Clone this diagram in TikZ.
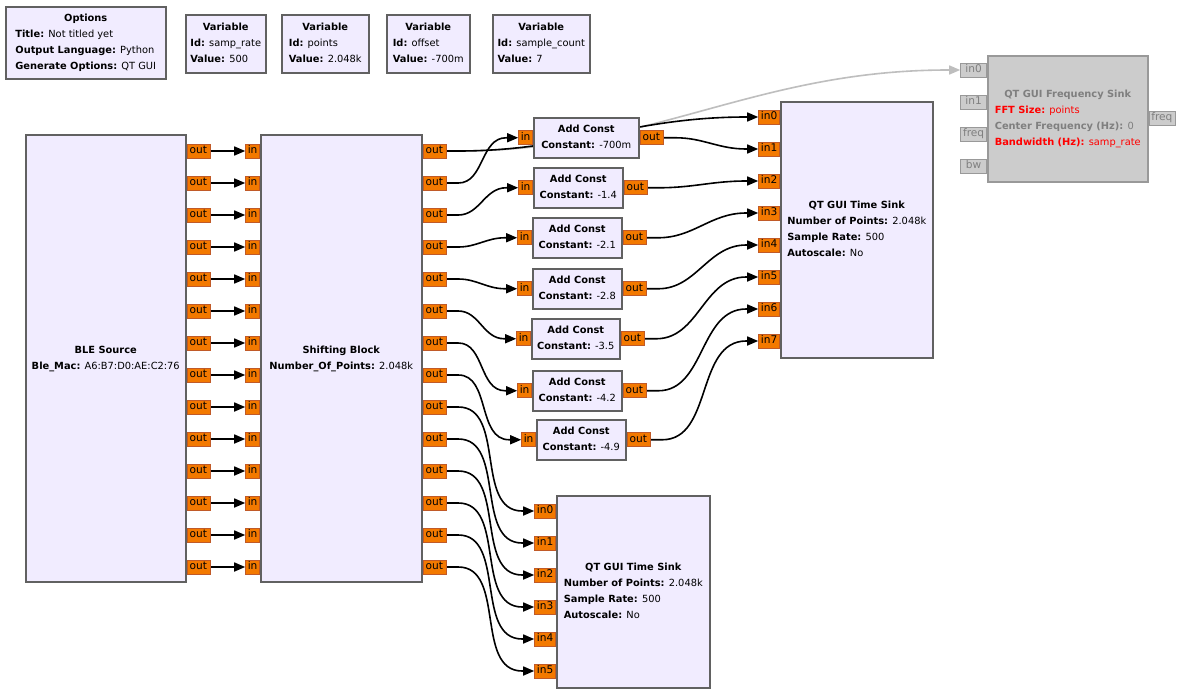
\documentclass[tikz,border=0pt]{standalone}
\usepackage{fontspec}
\setmainfont{DejaVu Sans}
\usepackage{xcolor}
\usetikzlibrary{arrows.meta, positioning}

\definecolor{blkfill}{HTML}{F1ECFF}
\definecolor{blkline}{HTML}{616161}
\definecolor{prtfill}{HTML}{F37900}
\definecolor{prtline}{HTML}{C05A28}
\definecolor{offfill}{HTML}{CCCCCC}
\definecolor{offline}{HTML}{999999}
\definecolor{offtext}{HTML}{7F7F7F}
\definecolor{offwirec}{HTML}{BEBEBE}
\definecolor{errtext}{HTML}{FF0000}

\pgfdeclarelayer{bg}
\pgfdeclarelayer{wires}
\pgfsetlayers{bg,wires,main}

\newcommand{\blocktext}[2]{\begin{tabular}{@{}l@{}}\multicolumn{1}{@{}c@{}}{\bfseries #1}\\#2\end{tabular}}
\newcommand{\wire}[3][]{\draw[wire, #1] (#2.east) -- ++(12,0) to[out=0, in=180] ([xshift=-12pt]#3.west) -- (#3.west);}

\begin{document}
\begin{tikzpicture}[x=1pt, y=-1pt,
  font=\fontsize{9.85}{16}\selectfont,
  block/.style={draw=blkline, fill=blkfill, line width=1.5pt, inner sep=0pt, anchor=north west},
  offblock/.style={block, draw=offline, fill=offfill, text=offtext},
  port/.style={draw=prtline, fill=prtfill, line width=0.8pt, inner sep=0pt,
    minimum height=14pt, text height=7.8pt, text depth=2.4pt, font=\fontsize{10.6}{12}\selectfont},
  oport/.style={port, anchor=west, minimum width=23pt},
  iport/.style={port, anchor=east, minimum width=14pt},
  nport/.style={port, anchor=east, minimum width=21pt},
  offport/.style={port, draw=offline, fill=offfill, text=offtext, minimum width=26pt},
  wire/.style={line width=1.6pt, -{Triangle[length=11pt, width=9pt]}},
  offwire/.style={draw=offwirec}]

  \begin{pgfonlayer}{bg}
    \fill[white] (0,0) rectangle (1181,694);
  \end{pgfonlayer}
  \useasboundingbox (0,0) rectangle (1181,694);

  \node[block, minimum width=160pt, minimum height=72pt] (opts) at (5,6)
    {\blocktext{Options}{\textbf{Title:} Not titled yet\\\textbf{Output Language:} Python\\\textbf{Generate Options:} QT GUI}};
  \node[block, minimum width=80pt, minimum height=58pt] (var-rate) at (185,14)
    {\blocktext{Variable}{\textbf{Id:} samp\_rate\\\textbf{Value:} 500}};
  \node[block, minimum width=87pt, minimum height=58pt] (var-points) at (281,14)
    {\blocktext{Variable}{\textbf{Id:} points\\\textbf{Value:} 2.048k}};
  \node[block, minimum width=83pt, minimum height=58pt] (var-offset) at (386,14)
    {\blocktext{Variable}{\textbf{Id:} offset\\\textbf{Value:} -700m}};
  \node[block, minimum width=97pt, minimum height=58pt] (var-count) at (492,14)
    {\blocktext{Variable}{\textbf{Id:} sample\_count\\\textbf{Value:} 7}};

  \node[block, minimum width=160pt, minimum height=447pt] (ble) at (25,134)
    {\blocktext{BLE Source}{\textbf{Ble\_Mac:} A6:B7:D0:AE:C2:76}};
  \node[block, minimum width=161pt, minimum height=447pt] (sh) at (260,134)
    {\blocktext{Shifting Block}{\textbf{Number\_Of\_Points:} 2.048k}};
  \foreach \i in {0,...,13} {
    \node[oport] (ble-o\i) at ([yshift={-(17+32*\i)}]ble.north east) {out};
    \node[iport] (sh-i\i) at ([yshift={-(17+32*\i)}]sh.north west) {in};
    \node[oport] (sh-o\i) at ([yshift={-(17+32*\i)}]sh.north east) {out};
  }

  \node[block, minimum width=105pt, minimum height=40pt] (ac0) at (533,117)
    {\blocktext{Add Const}{\textbf{Constant:} -700m}};
  \node[block, minimum width=89pt, minimum height=40pt] (ac1) at (533,167)
    {\blocktext{Add Const}{\textbf{Constant:} -1.4}};
  \node[block, minimum width=89pt, minimum height=40pt] (ac2) at (532,217)
    {\blocktext{Add Const}{\textbf{Constant:} -2.1}};
  \node[block, minimum width=89pt, minimum height=40pt] (ac3) at (532,268)
    {\blocktext{Add Const}{\textbf{Constant:} -2.8}};
  \node[block, minimum width=88pt, minimum height=40pt] (ac4) at (531,318)
    {\blocktext{Add Const}{\textbf{Constant:} -3.5}};
  \node[block, minimum width=89pt, minimum height=40pt] (ac5) at (532,370)
    {\blocktext{Add Const}{\textbf{Constant:} -4.2}};
  \node[block, minimum width=89pt, minimum height=40pt] (ac6) at (536,419)
    {\blocktext{Add Const}{\textbf{Constant:} -4.9}};
  \foreach \i in {0,...,6} {
    \node[iport] (ac\i-i) at (ac\i.west) {in};
    \node[oport] (ac\i-o) at (ac\i.east) {out};
  }

  \node[block, minimum width=152pt, minimum height=256pt] (ts1) at (780,101)
    {\blocktext{QT GUI Time Sink}{\textbf{Number of Points:} 2.048k\\\textbf{Sample Rate:} 500\\\textbf{Autoscale:} No}};
  \foreach \i in {0,...,7} {
    \node[nport] (ts1-i\i) at ([yshift={-(16+32*\i)}]ts1.north west) {in\i};
  }

  \node[block, minimum width=153pt, minimum height=192pt] (ts2) at (556,495)
    {\blocktext{QT GUI Time Sink}{\textbf{Number of Points:} 2.048k\\\textbf{Sample Rate:} 500\\\textbf{Autoscale:} No}};
  \foreach \i in {0,...,5} {
    \node[nport] (ts2-i\i) at ([yshift={-(16+32*\i)}]ts2.north west) {in\i};
  }

  \node[offblock, minimum width=160pt, minimum height=126pt] (fs) at (987,55)
    {\blocktext{QT GUI Frequency Sink}{\textcolor{errtext}{\textbf{FFT Size:} points}\\\textbf{Center Frequency (Hz):} 0\\\textcolor{errtext}{\textbf{Bandwidth (Hz):} samp\_rate}}};
  \foreach \n [count=\k from 0] in {in0,in1,freq,bw} {
    \node[offport, anchor=east] (fs-\n) at ([yshift={-(15+32*\k)}]fs.north west) {\n};
  }
  \node[offport, anchor=west] (fs-freqout) at ([yshift=-63pt]fs.north east) {freq};

  \begin{pgfonlayer}{wires}
    \wire[offwire]{sh-o0}{fs-in0}
    \foreach \i in {0,...,13} {
      \draw[wire] (ble-o\i.east) -- (sh-i\i.west);
    }
    \wire{sh-o0}{ts1-i0}
    \foreach \i [evaluate=\i as \j using int(\i+1)] in {0,...,6} {
      \wire{sh-o\j}{ac\i-i}
      \wire{ac\i-o}{ts1-i\j}
    }
    \foreach \i [evaluate=\i as \j using int(\i+8)] in {0,...,5} {
      \wire{sh-o\j}{ts2-i\i}
    }
  \end{pgfonlayer}
\end{tikzpicture}
\end{document}
